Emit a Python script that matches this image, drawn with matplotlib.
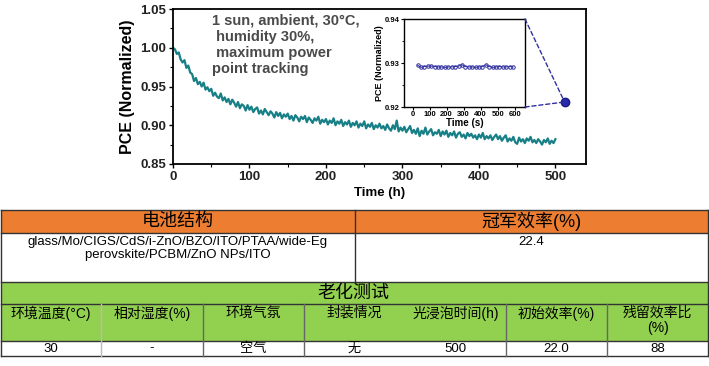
import numpy as np
import matplotlib.pyplot as plt
from matplotlib.patches import Rectangle, ConnectionPatch
from matplotlib.ticker import MultipleLocator

# long-term MPP tracking (normalized PCE, sampled every 2.5 h)
hours = np.arange(0, 500.1, 2.5)
pce = [1.000, 0.998, 0.992, 0.994, 0.985, 0.981, 0.984, 0.974, 0.977, 0.968,
       0.966, 0.957, 0.961, 0.953, 0.956, 0.950, 0.955, 0.946, 0.949, 0.944,
       0.947, 0.938, 0.942, 0.937, 0.935, 0.941, 0.932, 0.936, 0.930, 0.934,
       0.927, 0.933, 0.929, 0.924, 0.930, 0.922, 0.927, 0.925, 0.919, 0.926,
       0.920, 0.924, 0.917, 0.921, 0.923, 0.915, 0.919, 0.914, 0.921, 0.917,
       0.913, 0.918, 0.915, 0.910, 0.917, 0.912, 0.916, 0.909, 0.914, 0.911,
       0.915, 0.908, 0.912, 0.906, 0.913, 0.910, 0.905, 0.911, 0.908, 0.912,
       0.904, 0.910, 0.907, 0.903, 0.909, 0.906, 0.911, 0.902, 0.907, 0.904,
       0.908, 0.901, 0.906, 0.903, 0.909, 0.900, 0.905, 0.902, 0.907, 0.899,
       0.904, 0.901, 0.906, 0.898, 0.903, 0.900, 0.905, 0.897, 0.902, 0.899,
       0.905, 0.896, 0.901, 0.898, 0.903, 0.895, 0.900, 0.897, 0.902, 0.896,
       0.899, 0.894, 0.901, 0.896, 0.893, 0.900, 0.895, 0.906, 0.892, 0.897,
       0.893, 0.898, 0.891, 0.895, 0.899, 0.890, 0.894, 0.889, 0.896, 0.886,
       0.893, 0.889, 0.897, 0.888, 0.892, 0.895, 0.887, 0.891, 0.889, 0.894,
       0.886, 0.892, 0.888, 0.893, 0.885, 0.890, 0.887, 0.892, 0.884, 0.889,
       0.891, 0.885, 0.888, 0.883, 0.890, 0.886, 0.889, 0.884, 0.887, 0.882,
       0.888, 0.884, 0.890, 0.882, 0.886, 0.883, 0.887, 0.881, 0.885, 0.888,
       0.882, 0.886, 0.880, 0.884, 0.887, 0.879, 0.883, 0.880, 0.885, 0.878,
       0.876, 0.884, 0.879, 0.882, 0.877, 0.883, 0.880, 0.885, 0.878, 0.881,
       0.877, 0.882, 0.879, 0.875, 0.881, 0.878, 0.883, 0.876, 0.880, 0.877,
       0.882]

# inset: first 600 s
secs = np.arange(30, 600, 20)
pce_s = [0.9295, 0.9290, 0.9292, 0.9293, 0.9293, 0.9292, 0.9291, 0.9291, 0.9290, 0.9291,
         0.9291, 0.9292, 0.9293, 0.9296, 0.9292, 0.9291, 0.9291, 0.9290, 0.9291, 0.9292,
         0.9296, 0.9292, 0.9290, 0.9291, 0.9292, 0.9291, 0.9291, 0.9292, 0.9291]
callout = (512, 0.930)

# table contents
top_heads = ["电池结构", "冠军效率(%)"]
structure = "glass/Mo/CIGS/CdS/i-ZnO/BZO/ITO/PTAA/wide-Eg\nperovskite/PCBM/ZnO NPs/ITO"
champion = "22.4"
aging_title = "老化测试"
aging_heads = ["环境温度(°C)", "相对湿度(%)", "环境气氛", "封装情况",
               "光浸泡时间(h)", "初始效率(%)", "残留效率比\n(%)"]
aging_vals = ["30", "-", "空气", "无", "500", "22.0", "88"]

fonts = ['Liberation Sans', 'Noto Sans CJK SC', 'DejaVu Sans']
plt.rcParams['font.family'] = fonts

W, H = 709, 366
fig = plt.figure(figsize=(W / 100, H / 100), dpi=100)

def box(l, t, r, b):
    return [l / W, 1 - b / H, (r - l) / W, (b - t) / H]

# ---- main plot
ax = fig.add_axes(box(173, 9, 586, 164))
ax.plot(hours, pce, color='#177f86', lw=1.6)
ax.plot(*callout, 'o', color='#2a2ab0', ms=6, mec='#1a1a80', zorder=5)
ax.set_xlim(0, 540)
ax.set_ylim(0.85, 1.05)
ax.set_xticks(range(0, 501, 100))
ax.set_yticks([0.85, 0.90, 0.95, 1.00, 1.05])
ax.xaxis.set_minor_locator(MultipleLocator(50))
ax.yaxis.set_minor_locator(MultipleLocator(0.025))
ax.tick_params(which='major', length=3, width=1, labelsize=9.5, pad=2)
ax.tick_params(which='minor', length=2, width=0.8)
ax.tick_params(top=False, right=False)
for lb in ax.get_xticklabels() + ax.get_yticklabels():
    lb.set_fontweight('bold')
    lb.set_color('#222222')
for s in ax.spines.values():
    s.set_linewidth(1.3)
ax.set_xlabel("Time (h)", fontsize=9.5, fontweight='bold', labelpad=3)
ax.set_ylabel("PCE (Normalized)", fontsize=11.5, fontweight='bold', labelpad=4)
ax.text(0.094, 0.97, "1 sun, ambient, 30°C,\n humidity 30%,\n maximum power\npoint tracking",
        transform=ax.transAxes, fontsize=10.5, fontweight='bold', color='#4a4a4a',
        va='top', ha='left', linespacing=1.2)

# ---- inset
ins = fig.add_axes(box(404, 19, 525, 107))
ins.plot(secs, pce_s, 'o-', color='#3030a0', ms=2.5, mfc='none', mew=0.7, lw=0.7)
ins.set_xlim(-50, 660)
ins.set_ylim(0.92, 0.94)
ins.set_xticks(range(0, 601, 100))
ins.set_yticks([0.92, 0.93, 0.94])
ins.set_yticklabels(["0.92", "0.93", "0.94"])
ins.yaxis.set_minor_locator(MultipleLocator(0.005))
ins.tick_params(which='major', length=2, width=0.8, labelsize=5.5, pad=1)
ins.tick_params(which='minor', length=1.2, width=0.6)
for lb in ins.get_xticklabels() + ins.get_yticklabels():
    lb.set_fontweight('bold')
for s in ins.spines.values():
    s.set_linewidth(1)
ins.set_xlabel("Time (s)", fontsize=7, fontweight='bold', labelpad=0)
ins.set_ylabel("PCE (Normalized)", fontsize=6.5, fontweight='bold', labelpad=1)

for corner in [(1, 1), (1, 0)]:
    con = ConnectionPatch(xyA=corner, coordsA=ins.transAxes, xyB=callout, coordsB=ax.transData,
                          color='#3030a0', ls=(0, (3, 2)), lw=1)
    fig.add_artist(con)

# ---- table
tb = fig.add_axes([0, 0, 1, 1], zorder=-1)
tb.set_xlim(0, W)
tb.set_ylim(H, 0)
tb.axis('off')

orange, green = '#ed7d31', '#92d050'
rows = [210, 233, 282, 304, 341, 356]
cols = [1, 101, 203, 304, 405, 506, 607, 708]
split = 355

tb.add_patch(Rectangle((1, rows[0]), 707, rows[1] - rows[0], fc=orange, ec='none'))
tb.add_patch(Rectangle((1, rows[2]), 707, rows[4] - rows[2], fc=green, ec='none'))

lc = '#333333'
for y in rows:
    tb.plot([1, 708], [y, y], color=lc, lw=1)
tb.plot([1, 1], [rows[0], rows[-1]], color=lc, lw=1)
tb.plot([708, 708], [rows[0], rows[-1]], color=lc, lw=1)
tb.plot([split, split], [rows[0], rows[2]], color=lc, lw=1)
for i, x in enumerate(cols[1:-1]):
    if x == 405:
        continue
    tb.plot([x, x], [rows[3], rows[5]], color='#bbbbbb' if i == 0 else '#666666', lw=1)

tb.text((1 + split) / 2, (rows[0] + rows[1]) / 2, top_heads[0], ha='center', va='center', fontsize=13)
tb.text((split + 708) / 2, (rows[0] + rows[1]) / 2, top_heads[1], ha='center', va='center', fontsize=13)
tb.text((1 + split) / 2, rows[1] + 3, structure, ha='center', va='top', fontsize=9.5, linespacing=1.15)
tb.text((split + 708) / 2, rows[1] + 3, champion, ha='center', va='top', fontsize=9.5)
tb.text(353, (rows[2] + rows[3]) / 2, aging_title, ha='center', va='center', fontsize=13)
for i in range(7):
    cx = (cols[i] + cols[i + 1]) / 2
    tb.text(cx, rows[3] + 2, aging_heads[i], ha='center', va='top', fontsize=10, linespacing=1.1)
    tb.text(cx, (rows[4] + rows[5]) / 2, aging_vals[i], ha='center', va='center', fontsize=9.5)

fig.savefig("out.png", dpi=100)
